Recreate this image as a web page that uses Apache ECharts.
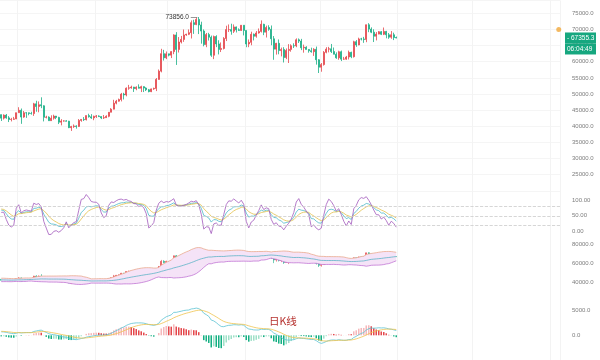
<!DOCTYPE html>
<html><head><meta charset="utf-8">
<script src="https://cdn.jsdelivr.net/npm/echarts@6/dist/echarts.min.js"></script>
<style>html,body{margin:0;padding:0;background:#fff}#c{width:600px;height:360px}</style>
</head><body><div id="c"></div>
<script>
// ---- data: rows are [open, high, low, close] ----
const warmupOHLC = [
 [37720,38950,37630,38690],[38690,39700,38640,39470],[39470,40200,39290,39980],[39980,42420,39980,41990],
 [41990,44490,41420,44080],[44080,44300,43330,43770],[43770,44050,42820,43290],[43290,44700,43080,44170],
 [44170,44370,43580,43720],[43720,44030,43360,43790],[43790,43790,40220,41240],[41240,42100,40680,41480],
 [41480,43430,40610,42890],[42890,43420,41420,43020],[43020,43090,41670,41940],[41940,42720,41730,42260],
 [42260,42430,41250,41360],[41360,42760,40530,42660],[42660,43490,41800,42270],[42270,44280,42180,43660],
 [43660,44240,43320,43860],[43860,44400,43400,43990],[43990,44000,43600,43730],[43730,43940,42580,43010],
 [43010,43800,42740,43600]
];
const dailyOHLC = [
 [43600,43640,41630,42520],[42520,43690,42100,43450],[43450,43800,42340,42600],[42600,43140,41300,42100],
 [42100,42600,41500,42150],[42150,42900,41970,42280],
 [42280,44200,42200,44200],[44200,45900,44200,44950],[44950,45500,40750,42850],[42850,44730,42630,44180],
 [44180,44340,42600,44160],[44160,44230,43400,43970],[43970,44500,43600,43930],[43930,47250,43200,46950],
 [46950,47900,44500,46120],[46120,47700,44330,46660],[46660,48970,45600,46340],[46340,46500,41500,42780],
 [42780,43260,42440,42840],[42840,43080,41720,41730],[41730,43400,41720,42510],[42510,43580,42050,43150],
 [43150,43200,42200,42740],[42740,42930,40680,41260],[41260,42200,40280,41620],[41620,41870,41440,41660],
 [41660,41880,41500,41580],[41580,41680,39430,39570],[39570,40130,38550,39900],[39900,40560,39480,40080],
 [40080,40300,39260,39940],[39940,42230,39820,41810],[41810,42200,41400,42120],[42120,42840,41620,42030],
 [42030,43310,41800,43300],[43300,43880,42680,42940],[42940,43750,42280,42580],
 [42580,43290,41880,43080],[43080,43480,42580,43190],[43190,43380,42880,42990],[42990,43120,42220,42580],
 [42580,43490,42260,42660],[42660,43400,42570,43090],[43090,44370,42790,44340],[44340,45610,44330,45300],
 [45300,48200,45240,47150],[47150,48170,46800,47770],[47770,48580,47630,48290],[48290,50330,47700,49960],
 [49960,50370,48300,49700],[49700,52040,49270,51800],[51800,52820,51310,51900],[51900,52580,51620,52150],
 [52150,52200,50630,51660],[51660,52360,51160,52120],[52120,52990,51710,51780],[51780,52570,50600,52280],
 [52280,52400,50600,51850],[51850,52060,50920,51300],[51300,51560,50520,50730],[50730,51680,50580,51570],
 [51570,51960,51280,51730],[51730,54940,50900,54520],[54520,57590,54450,57080],[57080,64000,56700,62500],
 [62500,63680,60360,61200],
 [61200,63170,60800,62440],[62440,62480,61660,62030],[62030,63230,61130,63130],[63130,68500,62330,68300],
 [68300,69170,59000,63800],[63800,67640,62850,66100],[66100,67990,65650,66900],[66900,69990,66150,68300],
 [68300,68670,68030,68500],[68500,70000,68250,69000],[69000,72800,67200,72100],[72100,73000,68620,71500],
 [71500,73650,71330,73100],[73100,73856,68560,71400],[71400,72400,65600,69500],[69500,70000,64780,65300],
 [65300,68900,64500,68400],[68400,68950,66570,67600],[67600,68100,61500,62000],[62000,68100,60800,67800],
 [67800,68200,64520,65500],[65500,66650,62260,63800],[63800,65970,63000,64100],[64100,67620,63800,67200],
 [67200,71150,66400,69950],[69950,71550,69200,69950],[69950,71770,68370,69450],[69450,71550,68900,70780],
 [70780,70900,69060,69900],[69900,70330,69560,69700],[69700,71370,69560,71300],
 [71300,71300,68150,69700],[69700,69700,64500,65500],[65500,66900,64500,66000],[66000,69300,65100,68500],
 [68500,68730,66600,67900],[67900,69500,67450,68900],[68900,70300,68700,69400],[69400,72800,69050,71600],
 [71600,71750,68230,69150],[69150,71170,67500,70600],[70600,71300,69600,70050],[70050,71230,65100,67100],
 [67100,67950,60600,63900],[63900,65850,62200,65700],[65700,66900,62300,63450],[63450,64380,61650,63800],
 [63800,64500,59760,61300],[61300,64100,60800,63500],[63500,65450,59600,63800],[63800,65400,63100,64950],
 [64950,65700,64250,64900],[64900,67230,64500,66800],[66800,67200,65800,66400],[66400,67080,63600,64300],
 [64300,65300,62800,64500],[64500,64800,63800,63800],[63800,63900,62800,63400],[63400,64350,62800,63100],
 [63100,64200,61800,63850],[63850,64700,59100,60600],
 [60600,60800,56500,58300],[58300,59600,56900,59100],[59100,63300,58800,62900],[62900,64500,62600,63900],
 [63900,64600,62900,64000],[64000,65500,62700,63150],[63150,64400,62300,62300],[62300,62900,60900,61200],
 [61200,63400,60600,63100],[63100,63450,60200,60800],[60800,61500,60600,60800],[60800,61800,60600,61450],
 [61450,63450,60700,62900],[62900,63100,61100,61550],[61550,66500,61300,66200],[66200,66700,64600,65200],
 [65200,67450,65100,67050],[67050,67400,66600,67040],[67040,67700,65850,66900],[66900,71500,66050,71450],
 [71450,71950,69150,70100],[70100,70650,68850,69150],[69150,70050,66100,67900],[67900,69200,66600,68550],
 [68550,69500,68500,69300],[69300,69500,68250,68500],[68500,70600,68250,69400],[69400,69550,67250,68350],
 [68350,68900,67100,67600],[67600,69500,67100,68350],[68350,69000,66700,67500],
 [67500,67800,67250,67355.3]
];
const firstDate = '2023-12-26';
const totalSlots = 224;
const priceTicks = [25000,30000,35000,40000,45000,50000,55000,60000,65000,70000,75000];
const kdjTicks = [0,50,100];
const kdjLevels = [20,50,80];
const bollTicks = [40000,60000,80000];
const macdTicks = [0,5000];
const lastPrice = 67355.3;
const countdownText = '06:04:49';
const alertPrice = 70000;
const panelTitle = '日K线';

// ---- categories ----
const categories = [];
const t0 = Date.parse(firstDate + 'T00:00:00Z');
for (let i = 0; i < totalSlots; i++) categories.push(new Date(t0 + i * 86400000).toISOString().slice(0, 10));

// ---- indicators derived from the candles ----
const all = warmupOHLC.concat(dailyOHLC);
const W = warmupOHLC.length;
const Cl = all.map(r => r[3]), Hi = all.map(r => r[1]), Lo = all.map(r => r[2]);
const K = [], D = [], J = [];
let k = 50, d = 50;
for (let i = 0; i < all.length; i++) {
  const s = Math.max(0, i - 8);
  const hh = Math.max(...Hi.slice(s, i + 1)), ll = Math.min(...Lo.slice(s, i + 1));
  const rsv = hh === ll ? 50 : (Cl[i] - ll) / (hh - ll) * 100;
  k = (2 * k + rsv) / 3; d = (2 * d + k) / 3;
  K.push(k); D.push(d); J.push(3 * k - 2 * d);
}
const MID = [], UP = [], LOW = [];
for (let i = 0; i < all.length; i++) {
  const s = Math.max(0, i - 19), w = Cl.slice(s, i + 1);
  const m = w.reduce((a, b) => a + b, 0) / w.length;
  const sd = Math.sqrt(w.reduce((a, b) => a + (b - m) * (b - m), 0) / w.length);
  MID.push(m); UP.push(m + 2 * sd); LOW.push(m - 2 * sd);
}
const DIF = [], DEA = [], HIST = [];
let e12 = Cl[0], e26 = Cl[0], dea = 0;
for (let i = 0; i < all.length; i++) {
  e12 = e12 + (Cl[i] - e12) * 2 / 13;
  e26 = e26 + (Cl[i] - e26) * 2 / 27;
  const dif = e12 - e26;
  dea = dea + (dif - dea) * 2 / 10;
  DIF.push(dif); DEA.push(dea); HIST.push((dif - dea) * 2);
}
const vis = a => a.slice(W);
const candleData = dailyOHLC.map(r => [r[0], r[3], r[2], r[1]]);
const lowVis = vis(LOW);
const bandData = vis(UP).map((u, i) => u - lowVis[i]);
const histVis = vis(HIST);
const histData = histVis.map((v, i) => {
  const p = i > 0 ? histVis[i - 1] : (HIST[W - 1]);
  let c;
  if (v >= 0) c = v >= p ? '#f5b8bb' : '#e4474c';
  else c = v <= p ? '#15b083' : '#9fe0c8';
  return { value: v, itemStyle: { color: c } };
});

const UPC = '#e4474c', DNC = '#1bae86';
const font = 'Liberation Sans, Arial, sans-serif';
const gridL = 0, gridW = 560;

function xAx(g) {
  return { gridIndex: g, type: 'category', data: categories, boundaryGap: true,
    axisLine: { show: false }, axisTick: { show: false }, axisLabel: { show: false },
    splitLine: { show: true, interval: (idx, val) => String(val).slice(8) === '02', lineStyle: { color: '#f3f3f3', width: 1 } } };
}
function yAx(g, min, max, interval, ticks, digits, split) {
  return { gridIndex: g, type: 'value', position: 'right', min, max, interval,
    axisLine: { show: false }, axisTick: { show: false },
    axisLabel: { margin: 12, color: '#7d7d7d', fontSize: 6, fontFamily: font, align: 'left',
      formatter: v => ticks.includes(v) ? v.toFixed(digits) : '' },
    splitLine: { show: split, lineStyle: { color: '#f5f5f5', width: 1 } } };
}

const boxLabel = (text, dy) => ({ show: true, position: 'end', distance: 5, offset: [0, dy], formatter: text,
  backgroundColor: '#16a77f', color: '#ffffff', fontSize: 6.5, fontFamily: font, padding: [2, 2], width: 27, align: 'left', opacity: 1 });

const chart = echarts.init(document.getElementById('c'), null, { renderer: 'canvas' });
chart.setOption({
  animation: false,
  backgroundColor: '#ffffff',
  title: { text: panelTitle, left: 264, top: 311, textStyle: { color: '#b5302d', fontSize: 10.5, fontWeight: 'normal', fontFamily: 'Noto Sans CJK SC' } },
  grid: [
    { left: gridL, width: gridW, top: 0.4, height: 190.4 },
    { left: gridL, width: gridW, top: 184.05, height: 63.4 },
    { left: gridL, width: gridW, top: 225.7, height: 76 },
    { left: gridL, width: gridW, top: 285.9, height: 82.2 }
  ],
  xAxis: [xAx(0), xAx(1), xAx(2), xAx(3)],
  yAxis: [
    yAx(0, 20000, 79000, 5000, priceTicks, 1, true),
    yAx(1, -50, 150, 50, kdjTicks, 2, false),
    yAx(2, 20000, 100000, 20000, bollTicks, 1, false),
    yAx(3, -5000, 10000, 5000, macdTicks, 1, false)
  ],
  series: [
    { type: 'candlestick', xAxisIndex: 0, yAxisIndex: 0, data: candleData, barWidth: '72%',
      itemStyle: { color: UPC, color0: DNC, borderColor: UPC, borderColor0: DNC, borderWidth: 0.8 },
      markPoint: { symbol: 'circle', symbolSize: 1, itemStyle: { color: 'rgba(0,0,0,0)' }, silent: true,
        data: [{ type: 'max', valueDim: 'highest' }],
        label: { show: true, position: 'left', distance: 1, color: '#333', fontSize: 6.5, fontFamily: font,
          formatter: p => Number(p.value).toFixed(1) + ' —' } },
      markLine: { symbol: 'none', silent: true, lineStyle: { color: 'rgba(0,0,0,0)', width: 0.5, type: 'solid' },
        data: [
          { yAxis: lastPrice, label: boxLabel('- ' + lastPrice.toFixed(1), 0) },
          { yAxis: lastPrice, label: boxLabel(countdownText, 11) }
        ] } },
    { type: 'scatter', xAxisIndex: 0, yAxisIndex: 0, data: [[categories[totalSlots - 1], alertPrice]], symbolSize: 5, itemStyle: { color: '#f1a83a' }, silent: true },
    { type: 'line', xAxisIndex: 1, yAxisIndex: 1, data: vis(K), symbol: 'none', lineStyle: { width: 0.8, color: '#4cb9c9' },
      markLine: { symbol: 'none', silent: true, label: { show: false }, lineStyle: { type: 'dashed', color: '#cccccc', width: 0.8 },
        data: kdjLevels.map(v => ({ yAxis: v })) } },
    { type: 'line', xAxisIndex: 1, yAxisIndex: 1, data: vis(D), symbol: 'none', lineStyle: { width: 0.8, color: '#e3c04a' } },
    { type: 'line', xAxisIndex: 1, yAxisIndex: 1, data: vis(J), symbol: 'none', lineStyle: { width: 0.8, color: '#a259bd' } },
    { type: 'line', xAxisIndex: 2, yAxisIndex: 2, data: lowVis, stack: 'boll', symbol: 'none', lineStyle: { width: 0.8, color: '#c276d4' } },
    { type: 'line', xAxisIndex: 2, yAxisIndex: 2, data: bandData, stack: 'boll', symbol: 'none',
      lineStyle: { width: 0.8, color: '#eaa98e' }, areaStyle: { color: '#f5e3f7', opacity: 1 } },
    { type: 'line', xAxisIndex: 2, yAxisIndex: 2, data: vis(MID), symbol: 'none', lineStyle: { width: 0.8, color: '#5db4c6' } },
    { type: 'candlestick', xAxisIndex: 2, yAxisIndex: 2, data: candleData, barWidth: '60%',
      itemStyle: { color: UPC, color0: DNC, borderColor: UPC, borderColor0: DNC, borderWidth: 0.6 } },
    { type: 'bar', xAxisIndex: 3, yAxisIndex: 3, data: histData, barWidth: '62%' },
    { type: 'line', xAxisIndex: 3, yAxisIndex: 3, data: vis(DIF), symbol: 'none', lineStyle: { width: 0.8, color: '#5cc3d3' } },
    { type: 'line', xAxisIndex: 3, yAxisIndex: 3, data: vis(DEA), symbol: 'none', lineStyle: { width: 0.8, color: '#efc34c' } }
  ]
});
</script></body></html>
